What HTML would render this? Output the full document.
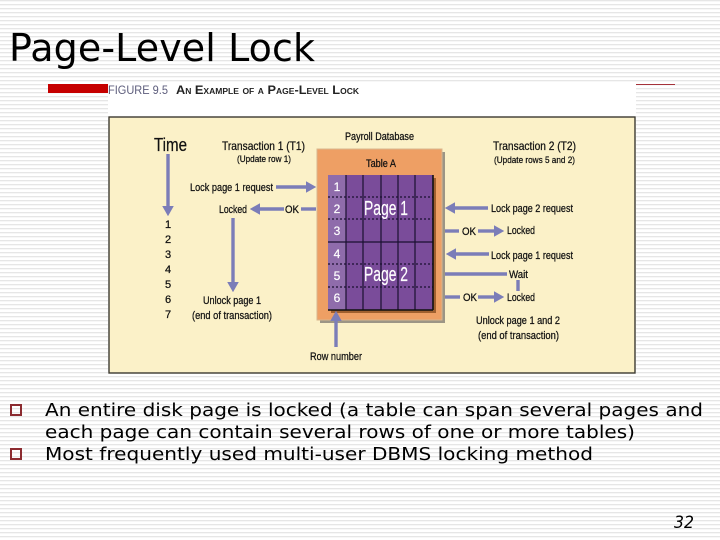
<!DOCTYPE html>
<html><head><meta charset="utf-8"><style>
html,body{margin:0;padding:0;width:720px;height:540px;overflow:hidden;background:#fff}
svg{display:block;position:absolute;left:0;top:0}
.d{font-family:"Liberation Sans",sans-serif;fill:#111;stroke:#111;stroke-width:.25}
.w{font-family:"Liberation Sans",sans-serif;fill:#fff;stroke:#fff;stroke-width:.2}
.v{font-family:"DejaVu Sans",sans-serif;fill:#000}
</style></head><body>
<svg width="720" height="540" viewBox="0 0 720 540" xmlns="http://www.w3.org/2000/svg">
<defs>
<pattern id="st" width="4" height="4" patternUnits="userSpaceOnUse"><rect width="4" height="4" fill="#fff"/><rect y="0" width="4" height="1" fill="#e6e6e6"/><rect y="1" width="4" height="1" fill="#f7f7f7"/></pattern>
<marker id="h" markerWidth="3" markerHeight="3.4" refX="0" refY="1.7" orient="auto"><path d="M0,0L3,1.7L0,3.4Z" fill="#7b7db8"/></marker>
</defs>
<rect width="720" height="540" fill="url(#st)"/>
<text class="v" x="9" y="61" font-size="38" textLength="306" lengthAdjust="spacing">Page-Level Lock</text>
<rect x="48" y="84" width="60" height="9" fill="#c60000"/>
<rect x="636" y="84" width="39" height="1" fill="#a5323a"/>

<rect x="108" y="83" width="528" height="291" fill="#fff"/>
<rect x="109" y="117" width="526" height="256" fill="#fbf1c8" stroke="#3c3a30" stroke-width="1.4"/>
<text class="d" x="108" y="94" font-size="11.5" style="fill:#5d5d7c;stroke:none" textLength="60" lengthAdjust="spacingAndGlyphs">FIGURE 9.5</text>
<text class="d" x="176" y="94" font-size="12" font-weight="bold" style="font-variant:small-caps;fill:#222;stroke:none" textLength="183" lengthAdjust="spacingAndGlyphs">An Example of a Page-Level Lock</text>

<rect x="320" y="152" width="125" height="171" fill="#9c9585"/>
<rect x="317" y="149" width="125" height="171" fill="#ee9f64" stroke="#d8b68e" stroke-width="1"/>
<rect x="331" y="178" width="105" height="135" fill="#a0602f"/>
<rect x="328" y="175" width="105" height="135" fill="#7a4c9a"/>
<rect x="328" y="175" width="18" height="135" fill="#8f6cab"/>
<g stroke="#1a1030" stroke-width="1.2" fill="none">
<path d="M346 175V310M363 175V310M381 175V310M398 175V310M415 175V310M328 242H433"/>
<path d="M328 197H433M328 219H433M328 264H433M328 287H433" stroke-dasharray="2 2"/>
<path d="M433 175V310M328 310H433" stroke="#111" stroke-width="1.6"/>
</g>
<g class="w" font-size="12" text-anchor="middle">
<text x="337" y="191">1</text><text x="337" y="213">2</text><text x="337" y="235">3</text><text x="337" y="258">4</text><text x="337" y="280">5</text><text x="337" y="302">6</text>
</g>
<text class="w" x="364" y="215" font-size="20" textLength="44" lengthAdjust="spacingAndGlyphs">Page 1</text>
<text class="w" x="364" y="281" font-size="20" textLength="44" lengthAdjust="spacingAndGlyphs">Page 2</text>

<g stroke="#7b7db8" stroke-width="3.4" fill="none">
<path d="M168 154V206" marker-end="url(#h)"/>
<path d="M276 187H306" marker-end="url(#h)"/>
<path d="M316 209H301"/>
<path d="M284 209H260" marker-end="url(#h)"/>
<path d="M233 218V282" marker-end="url(#h)"/>
<path d="M336 347V321" marker-end="url(#h)"/>
<path d="M488 208H455" marker-end="url(#h)"/>
<path d="M445 231H459"/>
<path d="M478 231H494" marker-end="url(#h)"/>
<path d="M489 254H456" marker-end="url(#h)"/>
<path d="M445 274H507"/>
<path d="M518 280V291"/>
<path d="M445 297H460"/>
<path d="M478 297H494" marker-end="url(#h)"/>
</g>

<g class="d" font-size="11">
<text x="154" y="151" font-size="18" textLength="33" lengthAdjust="spacingAndGlyphs">Time</text>
<text x="222" y="150" font-size="12" textLength="83" lengthAdjust="spacingAndGlyphs">Transaction 1 (T1)</text>
<text x="237" y="162" font-size="9.5" textLength="54" lengthAdjust="spacingAndGlyphs">(Update row 1)</text>
<text x="345" y="140" font-size="11" textLength="69" lengthAdjust="spacingAndGlyphs">Payroll Database</text>
<text x="366" y="167" font-size="11" textLength="30" lengthAdjust="spacingAndGlyphs">Table A</text>
<text x="190" y="191" textLength="83" lengthAdjust="spacingAndGlyphs">Lock page 1 request</text>
<text x="219" y="213" textLength="28" lengthAdjust="spacingAndGlyphs">Locked</text>
<text x="285" y="213" textLength="14" lengthAdjust="spacingAndGlyphs">OK</text>
<text x="203" y="304" textLength="58" lengthAdjust="spacingAndGlyphs">Unlock page 1</text>
<text x="192" y="319" textLength="80" lengthAdjust="spacingAndGlyphs">(end of transaction)</text>
<text x="310" y="360" textLength="52" lengthAdjust="spacingAndGlyphs">Row number</text>
<text x="493" y="150" font-size="12" textLength="83" lengthAdjust="spacingAndGlyphs">Transaction 2 (T2)</text>
<text x="494" y="163" font-size="9.5" textLength="81" lengthAdjust="spacingAndGlyphs">(Update rows 5 and 2)</text>
<text x="491" y="212" textLength="82" lengthAdjust="spacingAndGlyphs">Lock page 2 request</text>
<text x="462" y="235" textLength="14" lengthAdjust="spacingAndGlyphs">OK</text>
<text x="507" y="234" textLength="28" lengthAdjust="spacingAndGlyphs">Locked</text>
<text x="491" y="259" textLength="82" lengthAdjust="spacingAndGlyphs">Lock page 1 request</text>
<text x="509" y="278" textLength="19" lengthAdjust="spacingAndGlyphs">Wait</text>
<text x="463" y="301" textLength="14" lengthAdjust="spacingAndGlyphs">OK</text>
<text x="507" y="301" textLength="28" lengthAdjust="spacingAndGlyphs">Locked</text>
<text x="476" y="324" textLength="84" lengthAdjust="spacingAndGlyphs">Unlock page 1 and 2</text>
<text x="478" y="339" textLength="81" lengthAdjust="spacingAndGlyphs">(end of transaction)</text>
</g>
<g class="d" font-size="11" text-anchor="middle">
<text x="168" y="228">1</text><text x="168" y="243">2</text><text x="168" y="258">3</text><text x="168" y="273">4</text><text x="168" y="288">5</text><text x="168" y="303">6</text><text x="168" y="318">7</text>
</g>

<rect x="11" y="405" width="10" height="10" fill="none" stroke="#8c2b30" stroke-width="2"/>
<rect x="11" y="449" width="10" height="10" fill="none" stroke="#8c2b30" stroke-width="2"/>
<g class="v" font-size="18">
<text x="45" y="416" textLength="658" lengthAdjust="spacingAndGlyphs">An entire disk page is locked (a table can span several pages and</text>
<text x="45" y="438" textLength="590" lengthAdjust="spacingAndGlyphs">each page can contain several rows of one or more tables)</text>
<text x="45" y="460" textLength="548" lengthAdjust="spacingAndGlyphs">Most frequently used multi-user DBMS locking method</text>
</g>
<text class="v" x="674" y="528" font-size="17" font-style="italic" textLength="20" lengthAdjust="spacingAndGlyphs">32</text>
</svg>
</body></html>
